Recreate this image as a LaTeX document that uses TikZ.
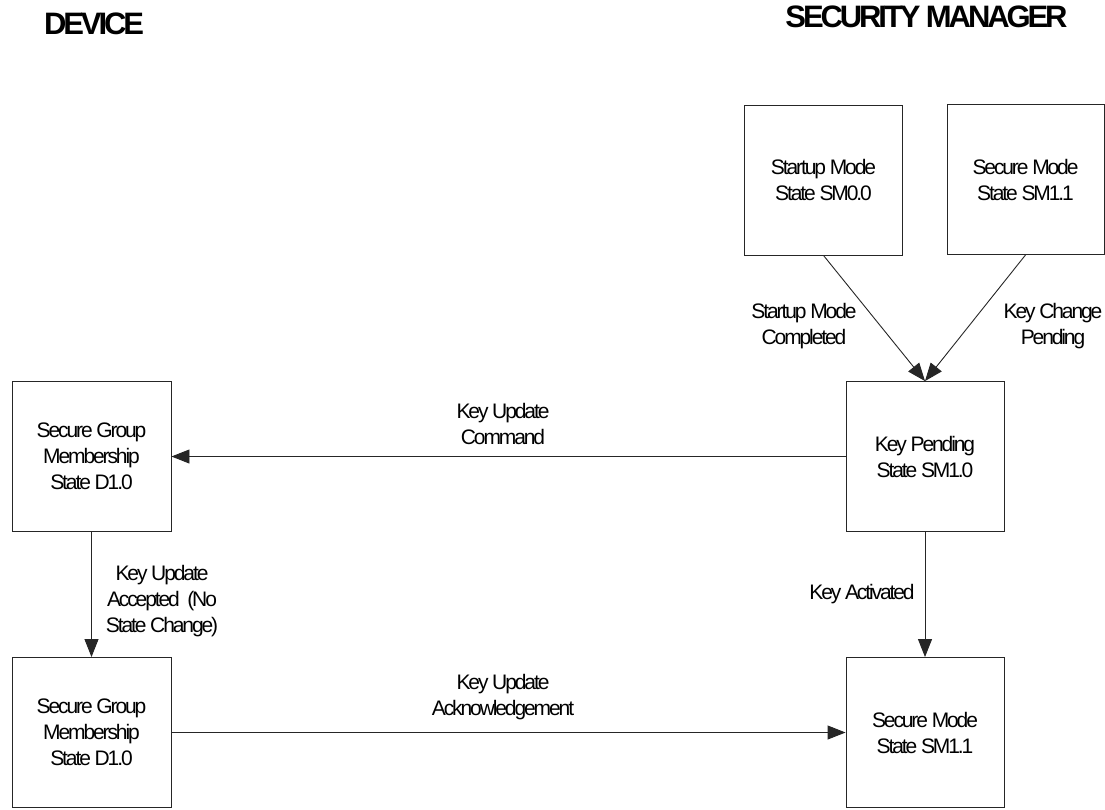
\documentclass[tikz,border=0pt]{standalone}
\usepackage{fontspec}
\setmainfont{Liberation Sans}
\newfontfamily\tightfont[LetterSpace=-10]{Liberation Sans}
\newfontfamily\headfont[LetterSpace=-10]{Liberation Sans}
\usetikzlibrary{arrows.meta}
\begin{document}
\begin{tikzpicture}[x=1pt,y=-1pt,
  statebox/.style={draw=black!85, line width=0.9pt, minimum width=158pt, minimum height=150pt,
    inner sep=0pt, align=center, font=\tightfont\fontsize{21}{26}\selectfont},
  lbl/.style={align=center, inner sep=0pt, font=\tightfont\fontsize{21}{26}\selectfont},
  hdr/.style={anchor=base, inner sep=0pt, font=\headfont\bfseries\fontsize{31}{36}\selectfont},
  flow/.style={draw=black!85, line width=0.9pt, -{Triangle[length=18pt,width=14pt]}}]
\useasboundingbox (0,0) rectangle (1105,809);

% column headings
\node[hdr] (hdev) at (94,34) {DEVICE};
\node[hdr] (hsm) at (926.5,27) {SECURITY MANAGER};

% security manager states
\node[statebox] (sm00) at (823.5,180) {Startup Mode\\State SM0.0};
\node[statebox, minimum width=157pt] (sm11a) at (1025.5,179.5) {Secure Mode\\State SM1.1};
\node[statebox] (kp) at (925,456.5) {Key Pending\\State SM1.0};
\node[statebox] (sm11b) at (925,732.5) {Secure Mode\\State SM1.1};

% device states
\node[statebox, minimum width=159pt] (d10a) at (91.5,456.5) {Secure Group\\Membership\\State D1.0};
\node[statebox, minimum width=159pt] (d10b) at (91.5,732.5) {Secure Group\\Membership\\State D1.0};

% transitions
\draw[flow] (sm00.south) -- (kp.north);
\draw[flow] (sm11a.south) -- (kp.north);
\draw[flow] (kp.west) -- (d10a.east);
\draw[flow] (d10a.south) -- (d10b.north);
\draw[flow] (d10b.east) -- (sm11b.west);
\draw[flow] (kp.south) -- (sm11b.north);

% transition labels
\node[lbl] (lsmc) at (804,326) {Startup Mode\\Completed};
\node[lbl] (lkcp) at (1053,326) {Key Change\\Pending};
\node[lbl] (lkuc) at (503,424) {Key Update\\Command};
\node[lbl] (lkua) at (162,601) {Key Update\\Accepted\ \ (No\\State Change)};
\node[lbl] (lka) at (862,594) {Key Activated};
\node[lbl] (lkuk) at (503,697) {Key Update\\Acknowledgement};
\end{tikzpicture}
\end{document}
